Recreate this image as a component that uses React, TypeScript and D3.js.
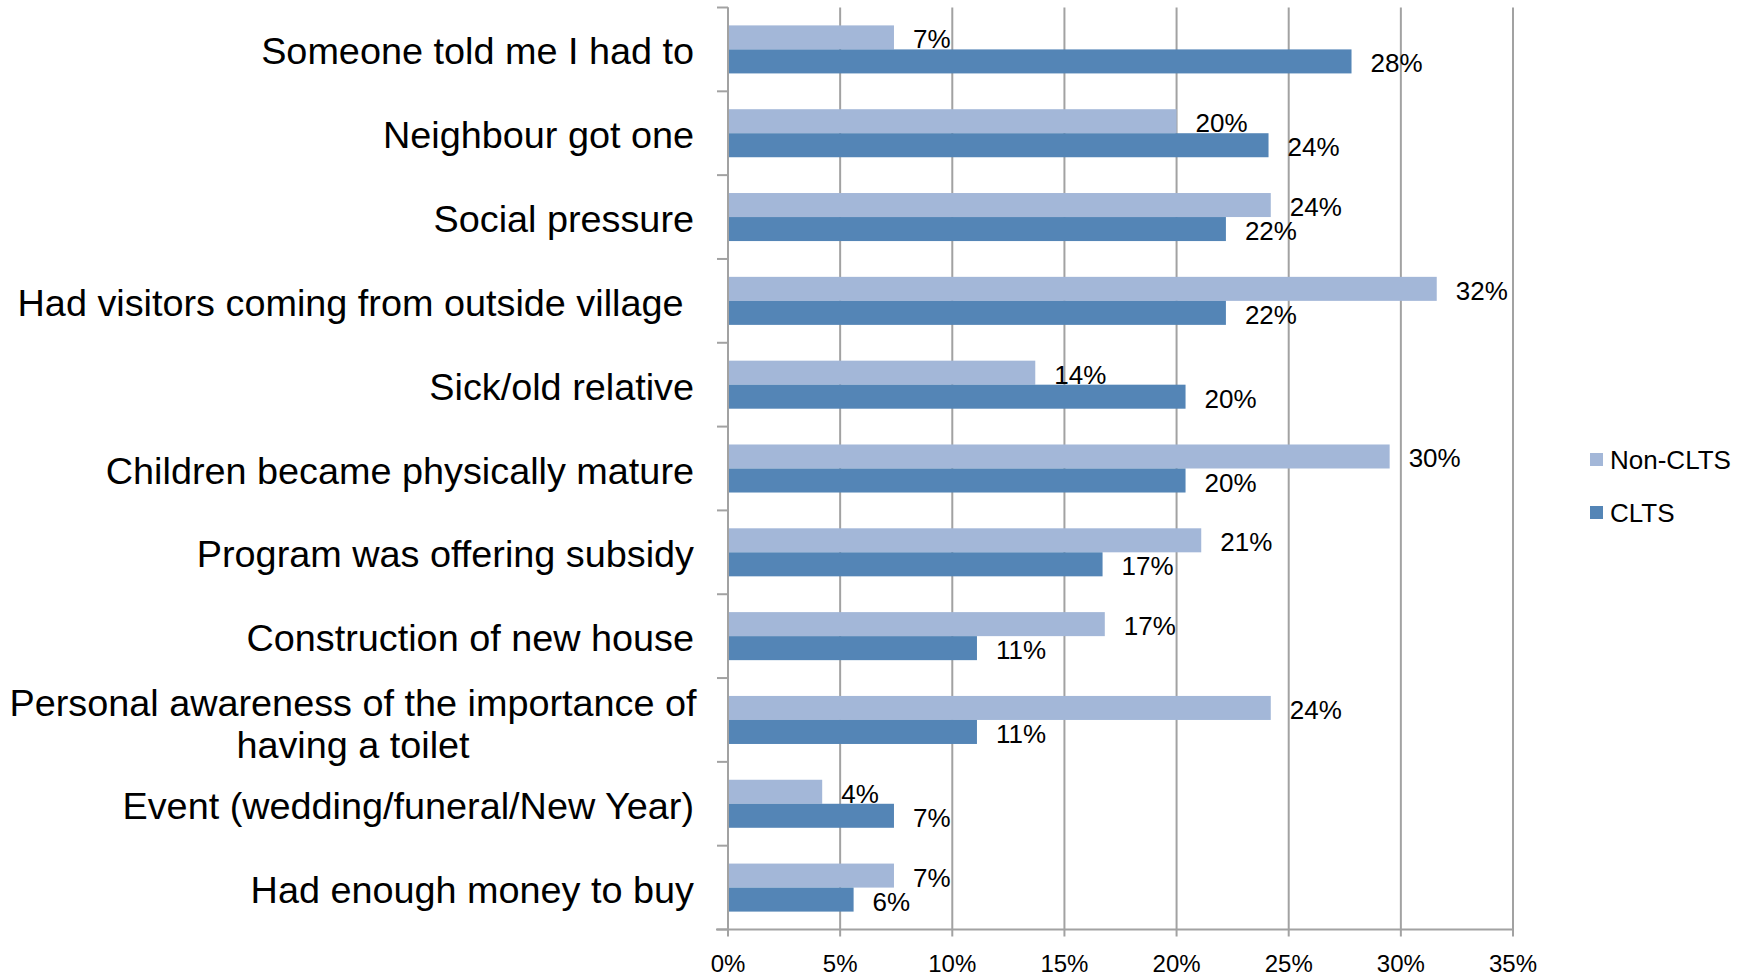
import React from "react";
import * as d3 from "d3";

const categories = [
  ["Someone told me I had to"],
  ["Neighbour got one"],
  ["Social pressure"],
  ["Had visitors coming from outside village "],
  ["Sick/old relative"],
  ["Children became physically mature"],
  ["Program was offering subsidy"],
  ["Construction of new house"],
  ["Personal awareness of the importance of", "having a toilet"],
  ["Event (wedding/funeral/New Year)"],
  ["Had enough money to buy"],
];

const nonClts = [7.4, 20.0, 24.2, 31.6, 13.7, 29.5, 21.1, 16.8, 24.2, 4.2, 7.4];
const clts = [27.8, 24.1, 22.2, 22.2, 20.4, 20.4, 16.7, 11.1, 11.1, 7.4, 5.6];
const seriesNames = ["Non-CLTS", "CLTS"];
const seriesColors = ["#a3b7d8", "#5485b6"];
const xTicks = [0, 5, 10, 15, 20, 25, 30, 35];

const W = 1744;
const H = 976;
const left = 728;
const right = 1513;
const top = 7.5;
const bottom = 929.5;
const grid = "#a2a2a2";
const font = "'Liberation Sans', Arial, Helvetica, sans-serif";

export default function App() {
  const x = d3.scaleLinear().domain([0, 35]).range([left, right]);
  const idx = categories.map((_, i) => String(i));
  const y0 = d3
    .scaleBand<string>()
    .domain(idx)
    .range([top, bottom])
    .paddingInner(0.427)
    .paddingOuter(0.2135);
  const y1 = d3
    .scaleBand<string>()
    .domain(seriesNames)
    .range([0, y0.bandwidth()]);
  const step = y0.step();
  const series = [nonClts, clts];
  const boundaries = d3.range(categories.length + 1).map((i) => top + i * step);

  return (
    <svg
      width={W}
      height={H}
      style={{ position: "absolute", left: 0, top: 0, background: "#fff" }}
      fontFamily={font}
    >
      <rect x={0} y={0} width={W} height={H} fill="#fff" />
      {xTicks.map((t) => (
        <line key={"g" + t} x1={x(t)} x2={x(t)} y1={top} y2={bottom + 7} stroke={grid} strokeWidth={2} />
      ))}
      <line x1={left - 12} x2={x(35) + 1} y1={bottom} y2={bottom} stroke={grid} strokeWidth={2} />
      {boundaries.map((b, i) => (
        <line key={"lt" + i} x1={left - 11} x2={left} y1={b} y2={b} stroke={grid} strokeWidth={2} />
      ))}
      {categories.map((_, i) => (
        <g key={"c" + i}>
          {series.map((s, j) => {
            const yy = (y0(String(i)) as number) + (y1(seriesNames[j]) as number);
            const h = y1.bandwidth();
            return (
              <g key={j}>
                <rect x={x(0)} y={yy} width={x(s[i]) - x(0)} height={h} fill={seriesColors[j]} />
                <text
                  x={x(s[i]) + 19}
                  y={yy + h / 2 + 2}
                  dominantBaseline="central"
                  fontSize={26}
                  fill="#000"
                >
                  {Math.round(s[i]) + "%"}
                </text>
              </g>
            );
          })}
        </g>
      ))}
      <line x1={left} x2={left} y1={top} y2={bottom} stroke={grid} strokeWidth={2} />
      {categories.map((lines, i) => {
        const cy = (y0(String(i)) as number) + y0.bandwidth() / 2;
        if (lines.length === 1) {
          return (
            <text
              key={"l" + i}
              x={694}
              y={cy + 2}
              textAnchor="end"
              dominantBaseline="central"
              fontSize={37.8}
              fill="#000"
              style={{ whiteSpace: "pre" }}
            >
              {lines[0]}
            </text>
          );
        }
        return (
          <text key={"l" + i} textAnchor="middle" fontSize={37.8} fill="#000" dominantBaseline="central">
            {lines.map((ln, k) => (
              <tspan key={k} x={353} y={cy - 17 + k * 42}>
                {ln}
              </tspan>
            ))}
          </text>
        );
      })}
      {xTicks.map((t) => (
        <text
          key={"xt" + t}
          x={x(t)}
          y={972}
          textAnchor="middle"
          fontSize={24}
          fill="#000"
        >
          {t + "%"}
        </text>
      ))}
      {seriesNames.map((n, j) => (
        <g key={"lg" + j}>
          <rect x={1590} y={453 + j * 53} width={13} height={13} fill={seriesColors[j]} />
          <text x={1610} y={460 + j * 53} dominantBaseline="central" fontSize={26} fill="#000">
            {n}
          </text>
        </g>
      ))}
    </svg>
  );
}
